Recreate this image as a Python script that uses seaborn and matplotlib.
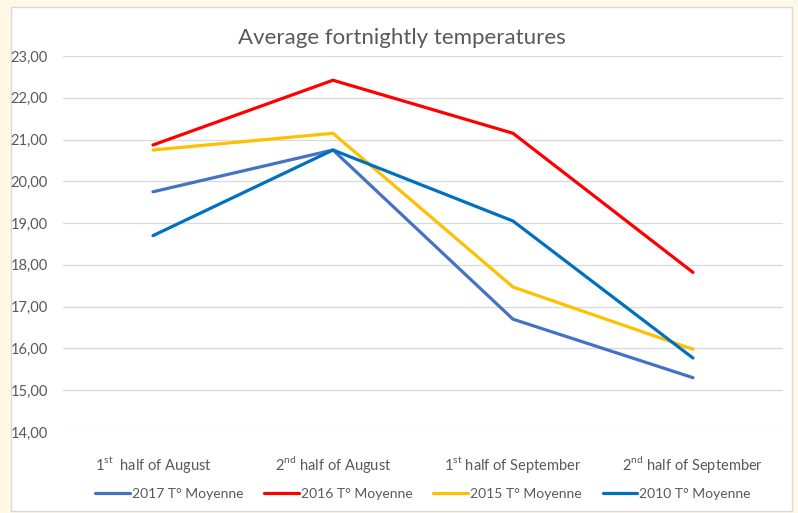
import matplotlib
matplotlib.use("Agg")
import matplotlib.pyplot as plt
import matplotlib.patches as mpatches
from matplotlib.ticker import FuncFormatter
import pandas as pd
import seaborn as sns

periods = ["1st half of August", "2nd half of August",
           "1st half of September", "2nd half of September"]
period_labels = ["1$^{\\mathrm{st}}$  half of August", "2$^{\\mathrm{nd}}$ half of August",
                 "1$^{\\mathrm{st}}$ half of September", "2$^{\\mathrm{nd}}$ half of September"]
series = ["2017 T° Moyenne", "2016 T° Moyenne", "2015 T° Moyenne", "2010 T° Moyenne"]
t2017 = [19.75, 20.75, 16.70, 15.30]
t2016 = [20.87, 22.42, 21.15, 17.82]
t2015 = [20.75, 21.15, 17.47, 15.98]
t2010 = [18.70, 20.75, 19.05, 15.77]
colors = ["#4472C4", "#FF0000", "#FFC000", "#0070C0"]

GREY = "#595959"

sns.set_style("white")
plt.rcParams['font.family'] = ['Lato', 'DejaVu Sans']
plt.rcParams['mathtext.fontset'] = 'custom'
plt.rcParams['mathtext.rm'] = 'Lato'

df = pd.DataFrame({
    "Period": periods * 4,
    "Series": [s for s in series for _ in periods],
    "Temp": t2017 + t2016 + t2015 + t2010,
})

fig = plt.figure(figsize=(7.98, 5.13), dpi=100, facecolor="#FFF8E6")
fig.patches.append(mpatches.Rectangle((11 / 798, 2 / 513), 781 / 798, 504 / 513,
                                      transform=fig.transFigure, facecolor="white",
                                      edgecolor="#D9D9D9", lw=1, zorder=-10))
ax = fig.add_axes([63 / 798, 81 / 513, 720 / 798, 376 / 513])
ax.set_facecolor("none")

sns.lineplot(data=df, x="Period", y="Temp", hue="Series", palette=colors,
             sort=False, linewidth=2.3, ax=ax)

ax.set_xlim(-0.5, 3.5)
ax.set_ylim(14, 23)
ax.set_yticks(range(14, 24))
ax.yaxis.set_major_formatter(FuncFormatter(lambda v, p: f"{v:.2f}".replace(".", ",")))
ax.set_xticks(range(4))
ax.set_xticklabels(period_labels)
ax.grid(axis="y", color="#D9D9D9", lw=0.9)
ax.set_axisbelow(True)
for s in ax.spines.values():
    s.set_visible(False)
ax.tick_params(axis="y", length=0, pad=11, labelsize=10.5, labelcolor=GREY)
ax.tick_params(axis="x", length=0, pad=16, labelsize=10.5, labelcolor=GREY)
ax.set_xlabel("")
ax.set_ylabel("")

fig.text(0.503, 0.925, "Average fortnightly temperatures", ha="center", va="center",
         fontsize=16, color=GREY)

leg = ax.legend(loc="center", bbox_to_anchor=(0.5, -0.165), ncol=4, frameon=False,
                fontsize=10, handlelength=2.5, handletextpad=0.15, columnspacing=1.5,
                labelcolor=GREY)
for line in leg.get_lines():
    line.set_linewidth(2.3)

fig.savefig("out.png", dpi=100, facecolor=fig.get_facecolor())
